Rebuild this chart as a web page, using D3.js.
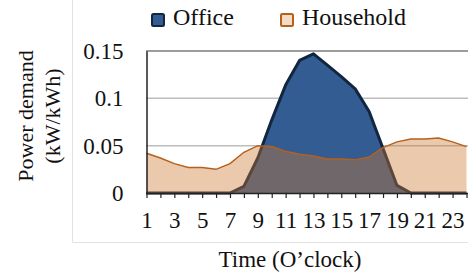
<!DOCTYPE html>
<html><head><meta charset="utf-8">
<script src="https://cdn.jsdelivr.net/npm/d3@7/dist/d3.min.js"></script>
<style>
@font-face{font-family:"TNRX";src:local("Liberation Serif"),local("LiberationSerif"),local("Liberation Serif Regular"),local("LiberationSerif-Regular");}
html,body{margin:0;padding:0;background:#fff;font-family:"Liberation Serif";}
svg{font-family:"Liberation Serif";}
</style>
</head><body><svg id="c" width="468" height="277" font-family="Liberation Serif"></svg>
<script>
const hours = d3.range(1, 25);
const household = [0.042,0.037,0.031,0.027,0.027,0.025,0.031,0.043,0.050,0.049,0.044,0.041,0.039,0.036,0.036,0.035,0.038,0.048,0.054,0.057,0.057,0.058,0.054,0.049];
const office = [0,0,0,0,0,0,0,0.007,0.037,0.077,0.114,0.140,0.147,0.135,0.123,0.110,0.086,0.047,0.008,0,0,0,0,0];
const yTicks = [0, 0.05, 0.1, 0.15];
const yTickLabels = ["0", "0.05", "0.1", "0.15"];
const xTickLabels = [1,3,5,7,9,11,13,15,17,19,21,23];
const seriesNames = ["Office", "Household"];

const FONT = '"Liberation Serif"';
const svg = d3.select("#c");
const x = d3.scaleLinear().domain([1, 24]).range([146.5, 466.5]);
const y = d3.scaleLinear().domain([0, 0.15]).range([193, 51]);

svg.append("path").attr("d","M72.5,0 V242.5 H468").attr("fill","none").attr("stroke","#e2e2e2").attr("stroke-width",1);

svg.append("g").selectAll("line").data([0.05,0.1]).join("line")
  .attr("x1",146).attr("x2",468).attr("y1",d=>y(d)).attr("y2",d=>y(d))
  .attr("stroke","#bdbdbd").attr("stroke-width",1.5);
svg.append("line").attr("x1",146).attr("x2",468).attr("y1",y(0.15)).attr("y2",y(0.15))
  .attr("stroke","#3a3a3a").attr("stroke-width",1.2);

const area = d3.area().x((d,i)=>x(hours[i])).y0(y(0)).y1(d=>y(d));
const line = d3.line().x((d,i)=>x(hours[i])).y(d=>y(d));

svg.append("path").datum(office).attr("d",area).attr("fill","#335d92");
svg.append("path").datum(office).attr("d",line).attr("fill","none").attr("stroke","#122640").attr("stroke-width",3).attr("stroke-linejoin","round");
svg.append("path").datum(household).attr("d",area).attr("fill","rgb(205,120,50)").attr("fill-opacity",0.4);
svg.append("path").datum(household).attr("d",line).attr("fill","none").attr("stroke","#b5601c").attr("stroke-width",1.5);

const xAxis = d3.axisBottom(x).tickValues(hours).tickSize(5).tickFormat(d=> xTickLabels.includes(d)? String(d):"");
const gx = svg.append("g").attr("transform",`translate(0,${y(0)})`).call(xAxis);
gx.attr("font-family",FONT).attr("font-size",23);
gx.select(".domain").attr("stroke","#222").attr("stroke-width",1.5).attr("d","M146,0.5H468");
gx.selectAll(".tick line").attr("stroke","#222").attr("stroke-width",1.2);
gx.selectAll(".tick text").attr("fill","#111").attr("dy",0).attr("y",35);

const yAxis = d3.axisLeft(y).tickValues(yTicks).tickSize(0).tickFormat((d,i)=>yTickLabels[i]);
const gy = svg.append("g").attr("transform",`translate(${x(1)},0)`).call(yAxis);
gy.attr("font-family",FONT).attr("font-size",23);
gy.select(".domain").attr("stroke","#222").attr("stroke-width",1.5);
gy.selectAll(".tick text").attr("fill","#111").attr("x",-23).attr("dy","0.33em");

function txt(s, size){ return svg.append("text").style("font-family",FONT).style("font-size",size+"px").attr("fill","#111").text(s); }
txt("Power demand",22).attr("transform","translate(33,116) rotate(-90)").attr("text-anchor","middle");
txt("(kW/kWh)",22).attr("transform","translate(60,116) rotate(-90)").attr("text-anchor","middle");
txt("Time (O\u2019clock)",23).attr("x",290).attr("y",267).attr("text-anchor","middle");

const leg = [
  {name: seriesNames[0], x: 151, fill: "#335d92", stroke: "#122640"},
  {name: seriesNames[1], x: 280, fill: "#f5dcc6", stroke: "#b5601c"}
];
const lg = svg.append("g").selectAll("g").data(leg).join("g");
lg.append("rect").attr("x",d=>d.x+1).attr("y",14).attr("width",12).attr("height",12).attr("rx",1.5)
  .attr("fill",d=>d.fill).attr("stroke",d=>d.stroke).attr("stroke-width",2);
lg.append("text").attr("x",d=>d.x+22).attr("y",25).style("font-family",FONT).style("font-size","24px").attr("fill","#111").text(d=>d.name);
</script></body></html>
